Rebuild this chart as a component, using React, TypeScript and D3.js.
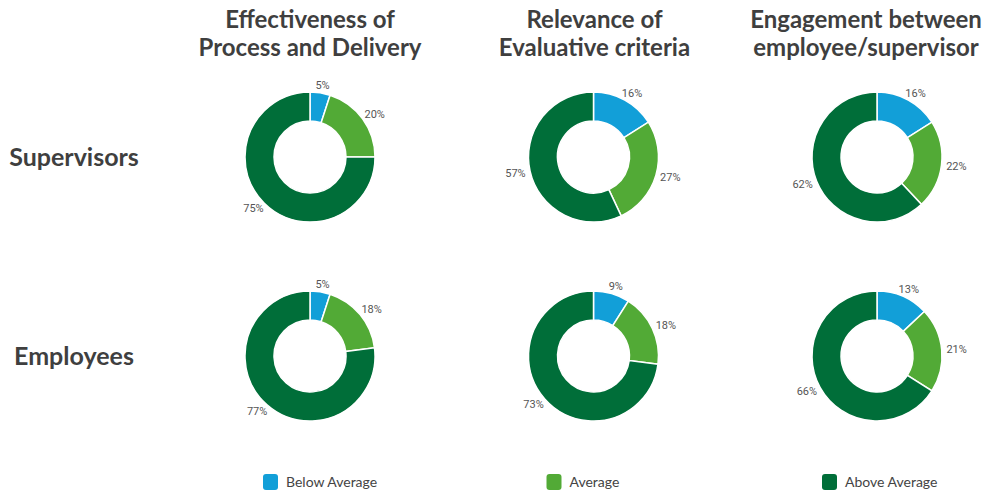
import React from 'react';
import * as d3 from 'd3';

const categories = ['Below Average', 'Average', 'Above Average'];
const columnTitles = [
  ['Effectiveness of', 'Process and Delivery'],
  ['Relevance of', 'Evaluative criteria'],
  ['Engagement between', 'employee/supervisor'],
];
const rowLabels = ['Supervisors', 'Employees'];
const supervisorValues = [
  [5, 20, 75],
  [16, 27, 57],
  [16, 22, 62],
];
const employeeValues = [
  [5, 18, 77],
  [9, 18, 73],
  [13, 21, 66],
];
const colors = ['#129fd8', '#52aa36', '#006e39'];

const width = 995;
const height = 494;
const outerR = 65;
const innerR = 36;
const titleShift = [0, 1, -11];

const App: React.FC = () => {
  const xScale = d3.scalePoint<number>().domain([0, 1, 2]).range([310, 877]);
  const yScale = d3.scalePoint<number>().domain([0, 1]).range([157, 356]);
  const color = d3.scaleOrdinal<string, string>().domain(categories).range(colors);

  const pie = d3.pie<number>().sort(null).value((d) => d);
  const arc = d3.arc<d3.PieArcDatum<number>>().innerRadius(innerR).outerRadius(outerR);

  const rows = [supervisorValues, employeeValues];

  // label placed so its box sits just outside the ring
  const labelPos = (a: d3.PieArcDatum<number>) => {
    const mid = (a.startAngle + a.endAngle) / 2;
    const s = Math.sin(mid);
    const c = -Math.cos(mid);
    const r = outerR + 2;
    return [r * s + 13 * s, r * c + 6 * c];
  };

  return (
    <svg
      width={width}
      height={height}
      style={{ position: 'absolute', left: 0, top: 0, background: '#fff' }}
    >
      {columnTitles.map((lines, i) => (
        <text
          key={i}
          x={(xScale(i) as number) + titleShift[i]}
          textAnchor="middle"
          fontFamily="Lato, 'Open Sans', sans-serif"
          fontWeight="bold"
          fontSize={24}
          fill="#3f3f3f"
        >
          {lines.map((l, j) => (
            <tspan key={j} x={(xScale(i) as number) + titleShift[i]} y={28 + j * 28}>
              {l}
            </tspan>
          ))}
        </text>
      ))}

      {rowLabels.map((l, i) => (
        <text
          key={l}
          x={74}
          y={yScale(i) as number}
          dy="0.35em"
          textAnchor="middle"
          fontFamily="Lato, 'Open Sans', sans-serif"
          fontWeight="bold"
          fontSize={25}
          fill="#3f3f3f"
        >
          {l}
        </text>
      ))}

      {rows.map((row, ri) =>
        row.map((vals, ci) => {
          const arcs = pie(vals);
          return (
            <g key={`${ri}-${ci}`} transform={`translate(${xScale(ci)},${yScale(ri)})`}>
              {arcs.map((a, k) => (
                <path
                  key={k}
                  d={arc(a) || ''}
                  fill={color(categories[k])}
                  stroke="#fff"
                  strokeWidth={1.5}
                />
              ))}
              {arcs.map((a, k) => {
                const [lx, ly] = labelPos(a);
                return (
                  <text
                    key={`t${k}`}
                    x={lx}
                    y={ly}
                    dy="0.35em"
                    textAnchor="middle"
                    fontFamily="Roboto, 'Liberation Sans', sans-serif"
                    fontSize={11}
                    fill="#555"
                  >
                    {`${a.data}%`}
                  </text>
                );
              })}
            </g>
          );
        })
      )}

      {categories.map((cat, i) => (
        <g key={cat} transform={`translate(${(xScale(i) as number) - 47 - (i === 2 ? 8 : 0)},474)`}>
          <rect width={15} height={16} rx={3} fill={color(cat)} />
          <text
            x={23}
            y={8}
            dy="0.35em"
            fontFamily="Lato, 'Open Sans', sans-serif"
            fontSize={14}
            fill="#444"
          >
            {cat}
          </text>
        </g>
      ))}
    </svg>
  );
};

export default App;
